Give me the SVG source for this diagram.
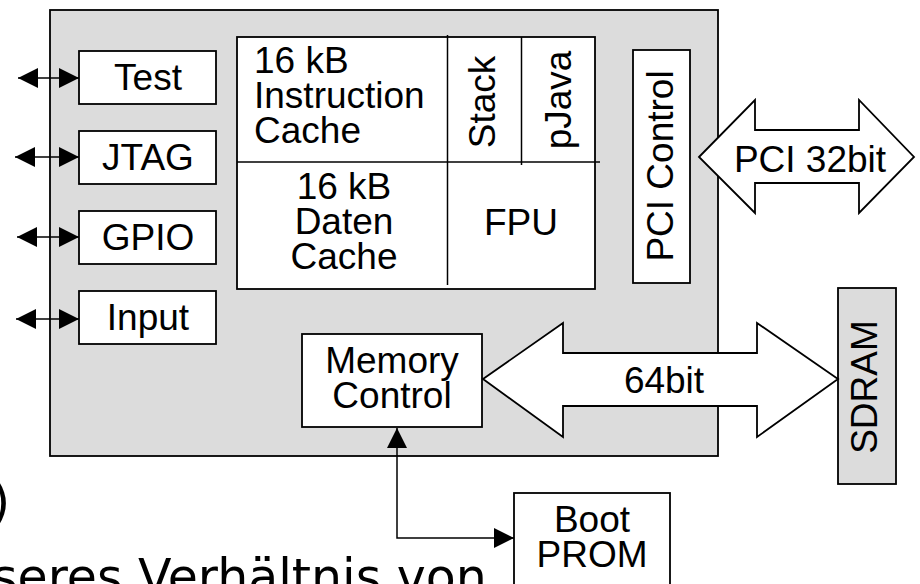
<svg xmlns="http://www.w3.org/2000/svg" width="920" height="584" viewBox="0 0 920 584">
<defs>
<style>
.box{fill:#fff;stroke:#000;stroke-width:1.8}
.gray{fill:#dcdcdc;stroke:#000;stroke-width:1.8}
.ln{fill:none;stroke:#000;stroke-width:1.5}
.blk{fill:#fff;stroke:#000;stroke-width:1.8;stroke-linejoin:miter}
text{font-family:"Liberation Sans",Arial,sans-serif;font-size:37px;fill:#000}
.c{text-anchor:middle}
.bg{font-family:"DejaVu Sans",Verdana,sans-serif;font-size:49px}
</style>
<marker id="ah" viewBox="0 0 20 20" refX="20" refY="10" markerWidth="20" markerHeight="20" markerUnits="userSpaceOnUse" orient="auto-start-reverse">
<path d="M0,0 L20,10 L0,20 Z" fill="#000"/>
</marker>
</defs>
<text class="bg" x="-9" y="519">)</text>
<text class="bg" x="-8" y="594">seres Verhältnis von</text>
<g id="chip">
<rect class="gray" x="50" y="10" width="668" height="446"/>
</g>
<g id="test"><rect class="box" x="79" y="51" width="137" height="53"/><text class="c" x="148" y="90">Test</text></g>
<g id="jtag"><rect class="box" x="79" y="131" width="137" height="53"/><text class="c" x="148" y="170">JTAG</text></g>
<g id="gpio"><rect class="box" x="79" y="211" width="137" height="53"/><text class="c" x="148" y="250">GPIO</text></g>
<g id="input"><rect class="box" x="79" y="291" width="137" height="53"/><text class="c" x="148" y="330">Input</text></g>
<g id="cache">
<rect class="box" x="237" y="37" width="358" height="252"/>
<line class="ln" x1="237" y1="162" x2="600" y2="162"/>
<line class="ln" x1="447.5" y1="35" x2="447.5" y2="285"/>
<line class="ln" x1="521.5" y1="37" x2="521.5" y2="165"/>
<text x="254" y="73">16 kB</text>
<text x="254" y="108">Instruction</text>
<text x="254" y="143">Cache</text>
<text class="c" x="344" y="199">16 kB</text>
<text class="c" x="344" y="234">Daten</text>
<text class="c" x="344" y="269">Cache</text>
<text class="c" x="521" y="235">FPU</text>
<text class="c" transform="translate(495,102) rotate(-90)">Stack</text>
<text class="c" transform="translate(571,100) rotate(-90)">pJava</text>
</g>
<g id="pci-control"><rect class="box" x="633" y="50" width="57" height="233"/><text class="c" transform="translate(673,166) rotate(-90)">PCI Control</text></g>
<g id="memory-control"><rect class="box" x="302" y="334" width="180" height="93"/><text class="c" x="392" y="373">Memory</text><text class="c" x="392" y="408">Control</text></g>
<g id="sdram"><rect class="gray" x="838" y="288" width="58" height="196"/><text class="c" transform="translate(877,387) rotate(-90)">SDRAM</text></g>
<g id="boot-prom"><rect class="box" x="514" y="493" width="156" height="100"/><text class="c" x="592" y="532">Boot</text><text class="c" x="592" y="567">PROM</text></g>
<g id="connectors">
<line class="ln" x1="18" y1="78" x2="79" y2="78" marker-start="url(#ah)" marker-end="url(#ah)"/>
<line class="ln" x1="15" y1="157" x2="79" y2="157" marker-start="url(#ah)" marker-end="url(#ah)"/>
<line class="ln" x1="17" y1="237" x2="79" y2="237" marker-start="url(#ah)" marker-end="url(#ah)"/>
<line class="ln" x1="16" y1="319" x2="79" y2="319" marker-start="url(#ah)" marker-end="url(#ah)"/>
<path class="ln" d="M397,428 V538 H514" marker-start="url(#ah)" marker-end="url(#ah)"/>
<path class="blk" d="M699,157 L755,100 L755,130 L859,130 L859,100 L914,157 L859,213 L859,183 L755,183 L755,213 Z"/>
<text class="c" x="810" y="172">PCI 32bit</text>
<path class="blk" d="M483,379 L563,323 L563,353 L757,353 L757,323 L838,379 L757,437 L757,406 L563,406 L563,437 Z"/>
<text class="c" x="664" y="393">64bit</text>
</g>
</svg>
